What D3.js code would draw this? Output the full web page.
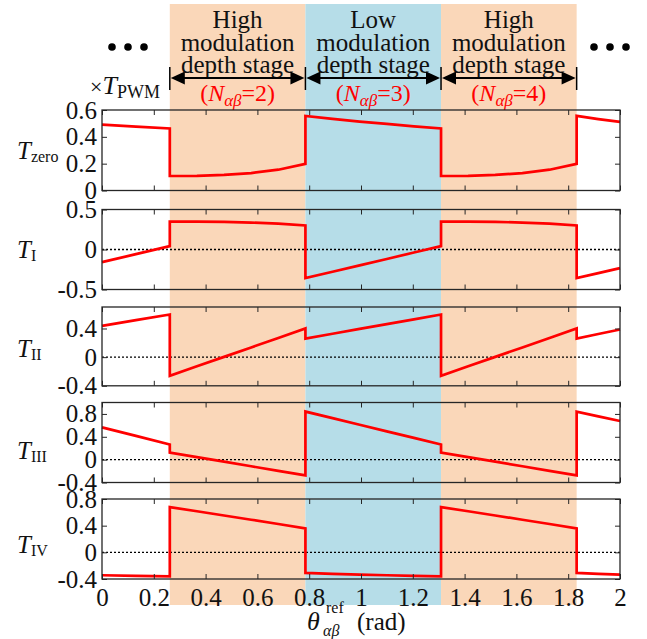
<!DOCTYPE html>
<html>
<head>
<meta charset="utf-8">
<script src="https://cdn.jsdelivr.net/npm/d3@7"></script>
<style>
  body { margin: 0; background: #fff; }
  svg { display: block; }
  text { font-family: "Liberation Serif", "Times New Roman", serif; }
</style>
</head>
<body>
<svg id="chart" width="647" height="639"></svg>
<script>
// ---- data -------------------------------------------------------------
// stage boundaries along the reference angle (rad)
const stageEdges = [0, 0.2618, 0.7854, 1.3090, 1.8326, 2];
const stageKinds = ["none", "high", "low", "high", "none"];
const stageTitles = [null, ["High", "modulation", "depth stage"], ["Low", "modulation", "depth stage"], ["High", "modulation", "depth stage"], null];
const stageN = [null, "2", "3", "4", null];

// sample angles of each stage segment (rad)
const segTheta = [
  [0, 0.131, 0.2618],
  [0.2618, 0.3665, 0.4712, 0.5760, 0.6807, 0.7854],
  [0.7854, 0.8901, 0.9948, 1.0996, 1.2043, 1.3090],
  [1.3090, 1.4137, 1.5184, 1.6232, 1.7279, 1.8326],
  [1.8326, 1.9163, 2.0]
];

// dwell times (x T_PWM), one list per stage segment
const tZero = [
  [0.491, 0.476, 0.462],
  [0.108, 0.109, 0.116, 0.130, 0.155, 0.198],
  [0.556, 0.534, 0.514, 0.496, 0.478, 0.462],
  [0.108, 0.109, 0.116, 0.130, 0.155, 0.198],
  [0.556, 0.532, 0.511]
];
const tI = [
  [-0.158, -0.058, 0.042],
  [0.350, 0.349, 0.345, 0.337, 0.323, 0.300],
  [-0.358, -0.278, -0.198, -0.118, -0.038, 0.042],
  [0.350, 0.349, 0.345, 0.337, 0.323, 0.300],
  [-0.358, -0.295, -0.233]
];
const tII = [
  [0.437, 0.516, 0.595],
  [-0.260, -0.128, 0.004, 0.136, 0.268, 0.400],
  [0.260, 0.327, 0.394, 0.461, 0.528, 0.595],
  [-0.260, -0.128, 0.004, 0.136, 0.268, 0.400],
  [0.260, 0.323, 0.386]
];
const tIII = [
  [0.565, 0.415, 0.265],
  [0.124, 0.044, -0.036, -0.116, -0.196, -0.276],
  [0.841, 0.726, 0.611, 0.495, 0.380, 0.265],
  [0.124, 0.044, -0.036, -0.116, -0.196, -0.276],
  [0.841, 0.758, 0.676]
];
const tIV = [
  [-0.344, -0.352, -0.360],
  [0.678, 0.616, 0.553, 0.489, 0.425, 0.360],
  [-0.309, -0.322, -0.334, -0.344, -0.352, -0.360],
  [0.678, 0.616, 0.553, 0.489, 0.425, 0.360],
  [-0.309, -0.322, -0.334]
];

const seriesSubs = ["zero", "I", "II", "III", "IV"];
const seriesValues = [tZero, tI, tII, tIII, tIV];
const yDomains = [[0, 0.6], [-0.5, 0.5], [-0.4, 0.7], [-0.4, 1.0], [-0.4, 0.8]];
const yTickValues = [[0, 0.2, 0.4, 0.6], [-0.5, 0, 0.5], [-0.4, 0, 0.4], [-0.4, 0, 0.4, 0.8], [-0.4, 0, 0.4, 0.8]];
const xTickValues = [0, 0.2, 0.4, 0.6, 0.8, 1, 1.2, 1.4, 1.6, 1.8, 2];

// ---- layout -----------------------------------------------------------
const panelTop = [110, 209.5, 307, 402.5, 499];
const panelH = [80.5, 80, 78.8, 80, 80];
const labelBase = [159, 258, 357, 459, 553];
const frameColor = "#262626";
const textColor = "#111";
const fills = { high: "#FAD7B9", low: "#B6DDE8" };
const tickFont = 25;

const svg = d3.select("#chart");
const x = d3.scaleLinear().domain([0, 2]).range([102, 620]);
const fmt = v => String(v);

// stage shading behind all panels
svg.append("g").selectAll("rect")
  .data(d3.range(stageKinds.length).filter(k => stageKinds[k] !== "none"))
  .join("rect")
  .attr("x", k => x(stageEdges[k]))
  .attr("width", k => x(stageEdges[k + 1]) - x(stageEdges[k]))
  .attr("y", 4)
  .attr("height", 601)
  .attr("fill", k => fills[stageKinds[k]]);

// stage headings
const head = svg.append("g").attr("fill", textColor);
stageTitles.forEach((lines, k) => {
  if (!lines) return;
  const cx = (x(stageEdges[k]) + x(stageEdges[k + 1])) / 2;
  lines.forEach((s, j) => {
    head.append("text")
      .attr("x", cx).attr("y", 28 + j * 22.5)
      .attr("text-anchor", "middle")
      .attr("font-size", 25)
      .text(s);
  });
  const t = head.append("text")
    .attr("x", cx).attr("y", 101)
    .attr("text-anchor", "middle")
    .attr("font-size", 24)
    .attr("fill", "#ff0000");
  t.append("tspan").text("(");
  t.append("tspan").attr("font-style", "italic").text("N");
  t.append("tspan").attr("font-style", "italic").attr("font-size", 17).attr("dy", 5).text("αβ");
  t.append("tspan").attr("dy", -5).text("=" + stageN[k] + ")");
});

// double arrows marking each stage
const arr = svg.append("g");
const ay = 78;
[1, 2, 3].forEach(k => {
  const xa = x(stageEdges[k]), xb = x(stageEdges[k + 1]);
  arr.append("line").attr("x1", xa + 10).attr("x2", xb - 10)
    .attr("y1", ay).attr("y2", ay).attr("stroke", "#000").attr("stroke-width", 2);
  arr.append("path").attr("d", `M${xa + 1},${ay}L${xa + 15},${ay - 6.5}L${xa + 15},${ay + 6.5}Z`).attr("fill", "#000");
  arr.append("path").attr("d", `M${xb - 1},${ay}L${xb - 15},${ay - 6.5}L${xb - 15},${ay + 6.5}Z`).attr("fill", "#000");
});
[1, 2, 3, 4].forEach(k => {
  const xe = x(stageEdges[k]);
  arr.append("line").attr("x1", xe).attr("x2", xe).attr("y1", 67).attr("y2", 90)
    .attr("stroke", "#000").attr("stroke-width", 1.5);
});

// continuation dots
svg.append("g").selectAll("circle")
  .data([112, 128, 144, 594, 610, 626])
  .join("circle")
  .attr("cx", d => d).attr("cy", 47).attr("r", 3.8).attr("fill", "#000");

// unit label
const unit = svg.append("text").attr("x", 90).attr("y", 94).attr("fill", textColor);
unit.append("tspan").attr("font-size", 22).text("×");
unit.append("tspan").attr("font-size", 26).attr("font-style", "italic").text("T");
unit.append("tspan").attr("font-size", 18).attr("dy", 4).text("PWM");

// ---- panels -----------------------------------------------------------
function styleAxis(g, showText) {
  g.attr("color", frameColor).attr("font-size", tickFont);
  g.select(".domain").remove();
  g.selectAll(".tick line").attr("stroke-width", 1);
  g.selectAll(".tick text").attr("fill", textColor).style("font-size", tickFont + "px");
  if (!showText) g.selectAll(".tick text").remove();
}

seriesValues.forEach((vals, i) => {
  const top = panelTop[i], h = panelH[i];
  const y = d3.scaleLinear().domain(yDomains[i]).range([top + h, top]);
  const g = svg.append("g");

  if (yDomains[i][0] < 0) {
    g.append("line")
      .attr("x1", x(0)).attr("x2", x(2))
      .attr("y1", y(0)).attr("y2", y(0))
      .attr("stroke", "#000").attr("stroke-width", 1.3)
      .attr("stroke-dasharray", "2,2");
  }

  const pts = segTheta.flatMap((ts, k) => ts.map((t, j) => [t, vals[k][j]]));
  g.append("path")
    .attr("d", d3.line().x(d => x(d[0])).y(d => y(d[1]))(pts))
    .attr("fill", "none")
    .attr("stroke", "#ff0000")
    .attr("stroke-width", 2.7)
    .attr("stroke-linejoin", "miter");

  g.append("g").attr("transform", `translate(${x(0)},0)`)
    .call(d3.axisLeft(y).tickValues(yTickValues[i]).tickSize(-5).tickPadding(5).tickFormat(fmt))
    .call(a => styleAxis(a, true));
  g.append("g").attr("transform", `translate(${x(2)},0)`)
    .call(d3.axisRight(y).tickValues(yTickValues[i]).tickSize(-5))
    .call(a => styleAxis(a, false));
  g.append("g").attr("transform", `translate(0,${top})`)
    .call(d3.axisTop(x).tickValues(xTickValues).tickSize(-5))
    .call(a => styleAxis(a, false));
  g.append("g").attr("transform", `translate(0,${top + h})`)
    .call(d3.axisBottom(x).tickValues(xTickValues).tickSize(-5).tickPadding(9).tickFormat(fmt))
    .call(a => styleAxis(a, i === seriesValues.length - 1));

  g.append("rect")
    .attr("x", x(0)).attr("y", top)
    .attr("width", x(2) - x(0)).attr("height", h)
    .attr("fill", "none").attr("stroke", frameColor).attr("stroke-width", 1.3);

  const lab = svg.append("text").attr("x", 17).attr("y", labelBase[i]).attr("fill", textColor);
  lab.append("tspan").attr("font-size", 25).attr("font-style", "italic").text("T");
  lab.append("tspan").attr("font-size", 16).attr("dy", 3).text(seriesSubs[i]);
});

// x-axis title
const xt = svg.append("g").attr("fill", textColor);
xt.append("text").attr("x", 307).attr("y", 630).attr("font-size", 26).attr("font-style", "italic").text("θ");
xt.append("text").attr("x", 326).attr("y", 613).attr("font-size", 16).text("ref");
xt.append("text").attr("x", 323).attr("y", 636).attr("font-size", 16).attr("font-style", "italic").text("αβ");
xt.append("text").attr("x", 357).attr("y", 630).attr("font-size", 25).text("(rad)");
</script>
</body>
</html>
